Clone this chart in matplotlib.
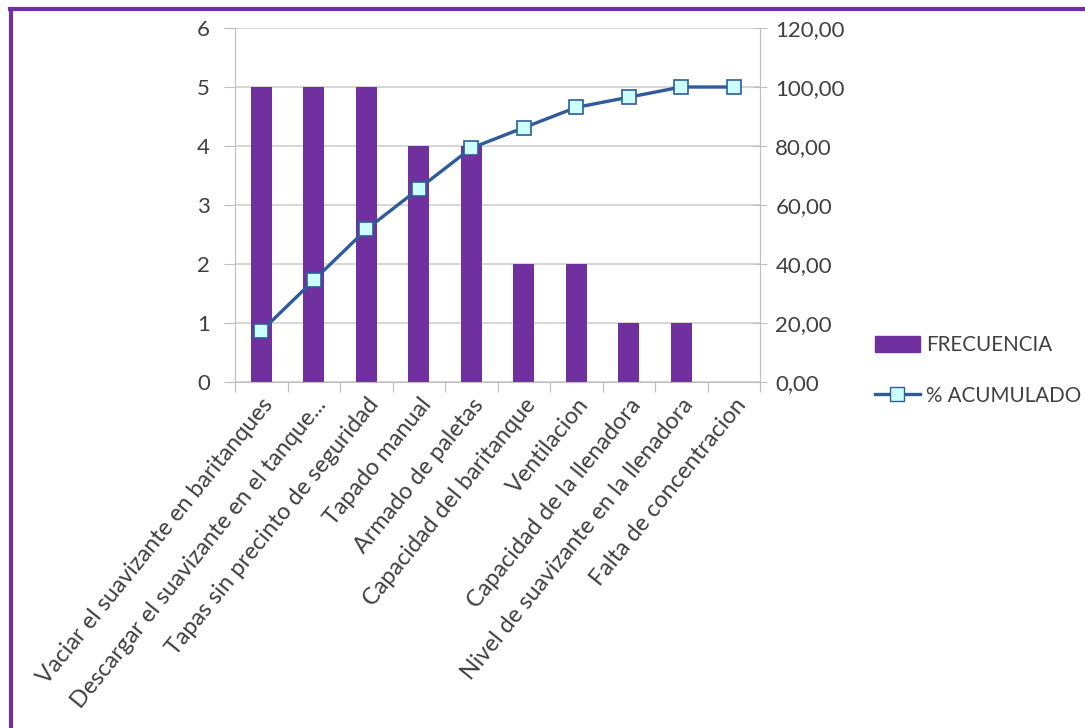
"""Pareto chart: frecuencia y % acumulado."""

import matplotlib
matplotlib.use("Agg")
import matplotlib.pyplot as plt
from matplotlib.lines import Line2D
from matplotlib.patches import Patch
from matplotlib.ticker import FuncFormatter

categorias = [
    "Vaciar el suavizante en baritanques",
    "Descargar el suavizante en el tanque...",
    "Tapas sin precinto de seguridad",
    "Tapado manual",
    "Armado de paletas",
    "Capacidad del baritanque",
    "Ventilacion",
    "Capacidad de la llenadora",
    "Nivel de suavizante en la llenadora",
    "Falta de concentracion",
]
frecuencia = [5, 5, 5, 4, 4, 2, 2, 1, 1, 0]
acumulado = [17.24, 34.48, 51.72, 65.52, 79.31, 86.21, 93.10, 96.55, 100.0, 100.0]

purple = "#7030A0"
blue = "#2E5C9A"
gray = "#BFBFBF"
text_col = "#404040"

plt.rcParams["font.family"] = ["Lato", "DejaVu Sans"]

fig = plt.figure(figsize=(10.85, 7.28), dpi=100)
ax = fig.add_axes([0.2166, 0.4753, 0.4839, 0.4862])
ax2 = ax.twinx()

x = list(range(len(categorias)))
ax.bar(x, frecuencia, width=0.4, color=purple, zorder=2)
ax2.plot(x, acumulado, color=blue, linewidth=2.4, marker="s", markersize=9.5,
         markerfacecolor="#CCFFFF", markeredgecolor=blue, markeredgewidth=1.2,
         zorder=3)

ax.set_xlim(-0.5, len(categorias) - 0.5)
ax.set_ylim(0, 6)
ax2.set_ylim(0, 120)
ax.set_yticks(range(0, 7))
ax2.set_yticks(range(0, 121, 20))
ax2.yaxis.set_major_formatter(FuncFormatter(lambda v, p: f"{v:.2f}".replace(".", ",")))

ax.yaxis.grid(True, color="#D0D0D0", linewidth=1.2, zorder=0)
ax.set_axisbelow(True)

for a in (ax, ax2):
    a.spines["top"].set_visible(False)
    a.spines["left"].set_color(gray)
    a.spines["right"].set_color(gray)
    a.spines["bottom"].set_color(gray)
ax.spines["right"].set_visible(False)
ax2.spines["left"].set_visible(False)
ax2.spines["bottom"].set_visible(False)

ax.tick_params(axis="y", length=8, color=gray, labelsize=16, labelcolor=text_col, pad=10)
ax2.tick_params(axis="y", direction="inout", length=10, color=gray, labelsize=16,
                labelcolor=text_col, pad=6)

# category ticks at boundaries, labels at centers
ax.set_xticks([i - 0.5 for i in range(len(categorias) + 1)])
ax.set_xticklabels([])
ax.tick_params(axis="x", length=7, color=gray)
ax.set_xticks(x, minor=True)
ax.set_xticklabels(categorias, minor=True, rotation=51, ha="right",
                   rotation_mode="anchor", fontsize=16.8, color=text_col)
ax.tick_params(axis="x", which="minor", length=0, pad=9)

handles = [
    Patch(facecolor=purple, edgecolor=purple),
    Line2D([0], [0], color=blue, linewidth=2.4, marker="s", markersize=9.5,
           markerfacecolor="#CCFFFF", markeredgecolor=blue),
]
fig.legend(handles, ["FRECUENCIA", "% ACUMULADO"], loc="upper left",
           bbox_to_anchor=(0.806, 0.54), frameon=False, fontsize=14.8,
           borderpad=0, borderaxespad=0,
           handlelength=2.2, handleheight=0.8, handletextpad=0.3, labelspacing=1.5,
           labelcolor=text_col)

# purple frame (top and left edges)
fig.add_artist(Line2D([0.0092, 1.0], [0.988, 0.988], color=purple, linewidth=3,
                      transform=fig.transFigure))
fig.add_artist(Line2D([0.0101, 0.0101], [0.0, 0.988], color=purple, linewidth=3,
                      transform=fig.transFigure))

fig.savefig("out.png", dpi=100)
